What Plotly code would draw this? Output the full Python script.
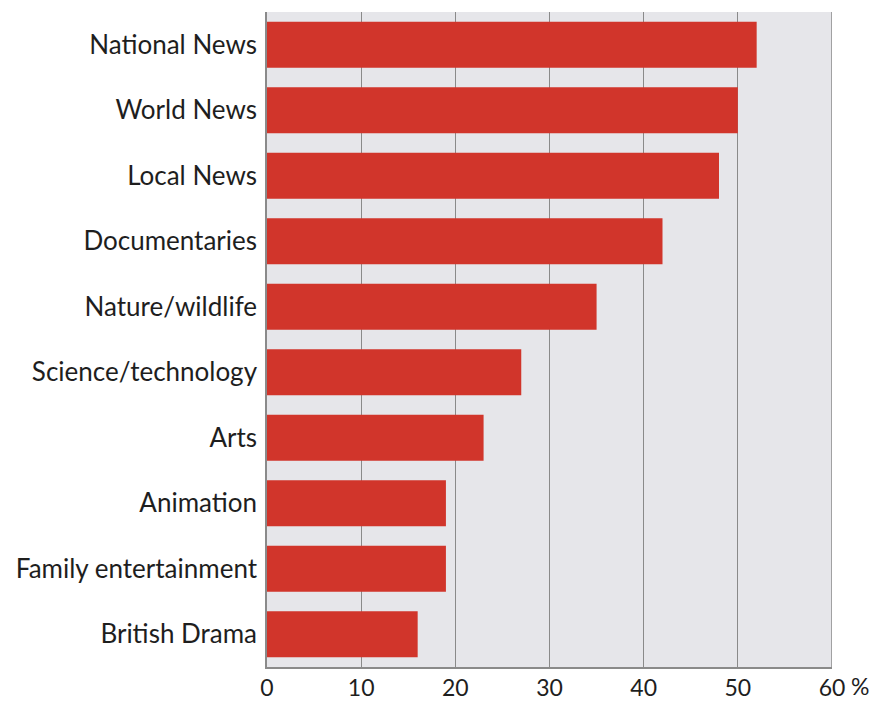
import plotly.graph_objects as go

categories = ["National News", "World News", "Local News", "Documentaries",
              "Nature/wildlife", "Science/technology", "Arts", "Animation",
              "Family entertainment", "British Drama"]
values = [52, 50, 48, 42, 35, 27, 23, 19, 19, 16]
tick_vals = [0, 10, 20, 30, 40, 50, 60]
tick_text = ["0", "10", "20", "30", "40", "50", "60"]

fig = go.Figure(go.Bar(
    x=values, y=categories, orientation="h",
    marker=dict(color="#d1352b", line=dict(width=0)),
    hoverinfo="x+y",
))

fig.update_layout(
    width=879, height=704,
    margin=dict(l=267, r=47, t=12, b=37),
    paper_bgcolor="white", plot_bgcolor="#e6e6ea",
    bargap=0.3,
    showlegend=False,
    font=dict(family="Lato", color="#1e1e1e"),
)
fig.update_xaxes(
    range=[0, 60], tickvals=tick_vals, ticktext=tick_text,
    showgrid=True, gridcolor="#8a8a8a", gridwidth=1.2,
    showline=True, linecolor="#8a8a8a", linewidth=1.5, mirror=False,
    tickfont=dict(size=23, color="#1e1e1e"), ticks="", zeroline=False,
    automargin=False,
)
fig.update_yaxes(
    categoryorder="array", categoryarray=categories[::-1],
    showline=True, linecolor="#8a8a8a", linewidth=1.5,
    tickfont=dict(size=26, color="#1e1e1e"), ticks="", ticklabelstandoff=3,
    automargin=False,
)
# right border of plot
fig.add_shape(type="line", xref="x", yref="paper", x0=60, x1=60, y0=0, y1=1,
              line=dict(color="#8a8a8a", width=1.5))
fig.add_annotation(text="%", xref="paper", yref="paper", x=1, y=0,
                   xanchor="left", yanchor="top", xshift=17, yshift=-3,
                   showarrow=False, font=dict(size=23, color="#1e1e1e"))

fig.write_html("out.html")
